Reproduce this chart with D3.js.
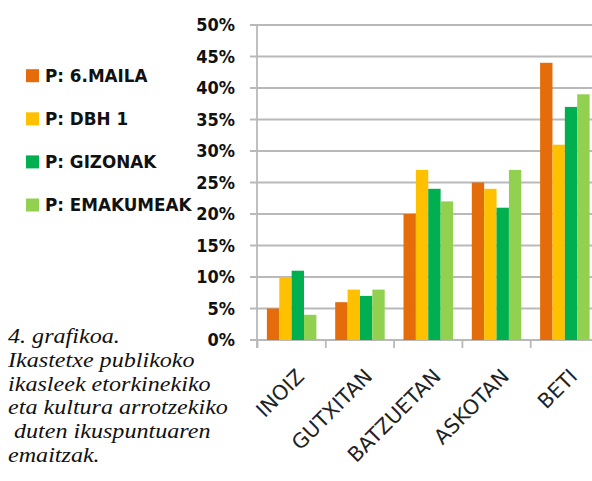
<!DOCTYPE html>
<html><head><meta charset="utf-8">
<script src="https://cdn.jsdelivr.net/npm/d3@7"></script>
<style>body{margin:0;background:#fff}svg{display:block}</style>
</head><body>
<svg id="c" width="592" height="481"></svg>
<script>
const categories = ["INOIZ","GUTXITAN","BATZUETAN","ASKOTAN","BETI"];
const seriesNames = ["P: 6.MAILA","P: DBH 1","P: GIZONAK","P: EMAKUMEAK"];
const seriesColors = ["#E46C0A","#FFC000","#00B050","#92D050"];
const maila6 = [5,6,20,25,44];
const dbh1 = [10,8,27,24,31];
const gizonak = [11,7,24,21,37];
const emakumeak = [4,8,22,27,39];
const yTicks = [0,5,10,15,20,25,30,35,40,45,50];
const caption = ["4. grafikoa.","Ikastetxe publikoko","ikasleek etorkinekiko","eta kultura arrotzekiko"," duten ikuspuntuaren","emaitzak."];

const series = [maila6, dbh1, gizonak, emakumeak];
const svg = d3.select("#c");
const gridCol = "#b9b9b9";

const x = d3.scaleBand().domain(categories).range([257.5, 599]).padding(0);
const y = d3.scaleLinear().domain([0,50]).range([340,25]);
const xs = d3.scaleBand().domain(d3.range(4)).range([0, x.bandwidth()]).paddingInner(0).paddingOuter(0.76);

// gridlines
svg.append("g").selectAll("line").data(yTicks).join("line")
  .attr("x1",250).attr("x2",592).attr("y1",d=>y(d)).attr("y2",d=>y(d))
  .attr("stroke",gridCol).attr("stroke-width",1.8);

// y axis via d3
const yAxis = d3.axisLeft(y).tickValues(yTicks).tickFormat(d=>d+"%").tickSize(0).tickPadding(22);
const ya = svg.append("g").attr("transform","translate(257,0)").call(yAxis);
ya.select(".domain").remove();
ya.selectAll("text").attr("font-family","DejaVu Sans Condensed, DejaVu Sans").attr("font-weight","bold")
  .attr("font-size",18).attr("fill","#111");

// bars
const groups = svg.append("g").selectAll("g").data(categories).join("g")
  .attr("transform",c=>`translate(${x(c)},0)`);
groups.selectAll("rect").data((c,ci)=>series.map((s,si)=>({si, v:s[ci]}))).join("rect")
  .attr("x",d=>xs(d.si)).attr("width",xs.bandwidth())
  .attr("y",d=>y(d.v)).attr("height",d=>y(0)-y(d.v))
  .attr("fill",d=>seriesColors[d.si]);

// axis lines
svg.append("line").attr("x1",257).attr("x2",257).attr("y1",y(50)).attr("y2",348)
  .attr("stroke",gridCol).attr("stroke-width",1.8);
const xb = d3.range(categories.length+1).map(i=>x.range()[0]+i*x.step());
svg.append("g").selectAll("line").data(xb).join("line")
  .attr("x1",d=>d).attr("x2",d=>d).attr("y1",340).attr("y2",348)
  .attr("stroke",gridCol).attr("stroke-width",1.8);

// x labels
svg.append("g").selectAll("text").data(categories).join("text")
  .attr("transform",c=>`translate(${x(c)+x.bandwidth()/2+3},367) rotate(-45)`)
  .attr("text-anchor","end").attr("dominant-baseline","hanging")
  .attr("font-family","DejaVu Sans").attr("font-size",20.5).attr("fill","#222")
  .text(c=>c);

// legend
const lg = svg.append("g").selectAll("g").data(seriesNames).join("g")
  .attr("transform",(d,i)=>`translate(26,${75.7+i*43.1})`);
lg.append("rect").attr("x",0).attr("y",-6.5).attr("width",13).attr("height",13)
  .attr("fill",(d,i)=>seriesColors[i]);
lg.append("text").attr("x",19).attr("y",6.2).attr("font-family","DejaVu Sans")
  .attr("font-weight","bold").attr("font-size",16.8).attr("fill","#111").text(d=>d);

// caption (tight leading as in the reference; glyphs widened horizontally)
svg.append("g").attr("transform","translate(8,0) scale(1.17,1)")
  .selectAll("text").data(caption).join("text")
  .attr("x",0).attr("y",(d,i)=>343+i*23.8).attr("xml:space","preserve")
  .style("white-space","pre")
  .attr("font-family","Liberation Serif, Times New Roman, serif").attr("font-style","italic")
  .attr("font-size",20.6).attr("fill","#111").text(d=>d);
</script>
</body></html>
